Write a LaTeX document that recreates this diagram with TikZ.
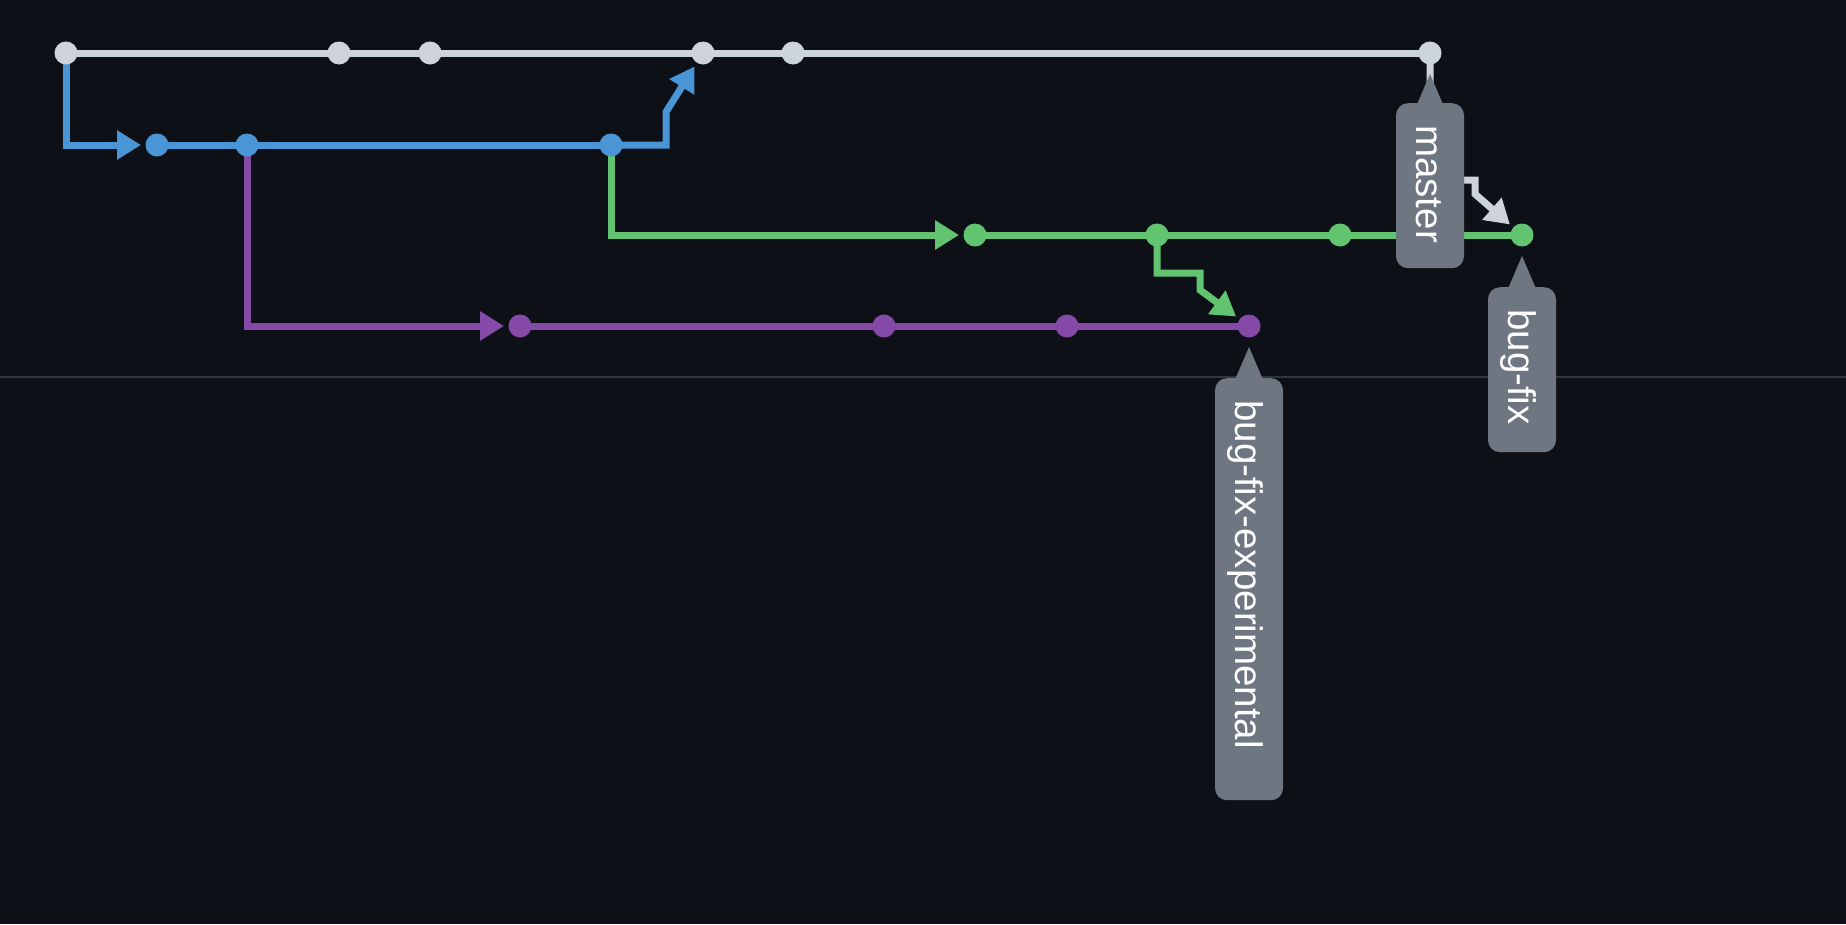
\documentclass[tikz,border=0pt]{standalone}
\usepackage{fontspec}
\setmainfont{Liberation Sans}
\usetikzlibrary{arrows.meta,calc}
\definecolor{bgc}{HTML}{0D1117}
\definecolor{sepc}{HTML}{30363D}
\definecolor{greyc}{HTML}{CDD3DA}
\definecolor{bluec}{HTML}{4A95D6}
\definecolor{greenc}{HTML}{62C370}
\definecolor{purplec}{HTML}{8549A8}
\definecolor{tagc}{HTML}{6E7681}
\definecolor{tagtext}{HTML}{FFFFFF}
\begin{document}
\begin{tikzpicture}[x=1pt,y=-1pt,
  dot/.style={circle,fill=#1,inner sep=0pt,minimum size=22pt,outer sep=5pt},
  branch/.style={draw=#1,line width=7pt},
  arr/.style={-{Triangle[length=24pt,width=28pt]}},
  tagbox/.style={fill=tagc,text=tagtext,rounded corners=12pt,rotate=-90,anchor=west,
    inner xsep=22pt,inner ysep=0pt,minimum height=68pt,align=left,
    text height=27pt,text depth=0pt,font=\fontsize{38.5}{40}\selectfont},
  pointer/.style={fill=tagc}]
\useasboundingbox (0,0) rectangle (1846,924);
\fill[bgc] (0,0) rectangle (1846,924);
\coordinate (sepL) at (0,377);
\coordinate (sepR) at (1846,377);
\draw[sepc,line width=2pt] (sepL) -- (sepR);
% commits
\node[dot=greyc] (m1) at (66,53) {};
\node[dot=greyc] (m2) at (339,53) {};
\node[dot=greyc] (m3) at (430,53) {};
\node[dot=greyc] (m4) at (703,53) {};
\node[dot=greyc] (m5) at (793,53) {};
\node[dot=greyc] (m6) at (1430,53) {};
\node[dot=bluec] (b1) at (157,145) {};
\node[dot=bluec] (b2) at (247,145) {};
\node[dot=bluec] (b3) at (611,145) {};
\node[dot=greenc] (g1) at (975,235) {};
\node[dot=greenc] (g2) at (1157,235) {};
\node[dot=greenc] (g3) at (1340,235) {};
\node[dot=greenc] (g4) at (1522,235) {};
\node[dot=purplec] (p1) at (520,326) {};
\node[dot=purplec] (p2) at (884,326) {};
\node[dot=purplec] (p3) at (1067,326) {};
\node[dot=purplec] (p4) at (1249,326) {};
% branch lines
\draw[branch=greyc] (m1.center) -- (m6.center);
\draw[branch=bluec] (b1.center) -- (b3.center);
\draw[branch=greenc] (g1.center) -- (g4.center);
\draw[branch=purplec] (p1.center) -- (p4.center);
\draw[branch=bluec,arr] (m1.center) |- (b1);
\draw[branch=purplec,arr] (b2.center) |- (p1);
\draw[branch=greenc,arr] (b3.center) |- (g1);
\draw[branch=bluec,arr] (b3.center) -- ++(55,0) -- ++(0,-33) -- (m4);
\draw[branch=greenc,arr] (g2.center) -- ++(0,38) -- ++(43,0) -- ++(0,17) -- (p4);
\draw[branch=greyc,arr] (m6.center) -- ++(0,127) -- ++(45,0) -- ++(0,14) -- (g4);
% redraw dots on top
\foreach \n/\c in {m1/greyc,m2/greyc,m3/greyc,m4/greyc,m5/greyc,m6/greyc,
  b1/bluec,b2/bluec,b3/bluec,g1/greenc,g2/greenc,g3/greenc,g4/greenc,
  p1/purplec,p2/purplec,p3/purplec,p4/purplec}
  \fill[\c] (\n.center) circle[radius=11.5pt];
% labels
\fill[pointer] ($(m6.center)+(0,21)$) -- ($(m6.center)+(-15,56)$) -- ($(m6.center)+(15,56)$) -- cycle;
\node[tagbox,text width=121pt] (lm) at ($(m6.center)+(0,50)$) {master};
\fill[pointer] ($(g4.center)+(0,21)$) -- ($(g4.center)+(-15,56)$) -- ($(g4.center)+(15,56)$) -- cycle;
\node[tagbox,text width=121pt] (lb) at ($(g4.center)+(0,52)$) {bug-fix};
\fill[pointer] ($(p4.center)+(0,21)$) -- ($(p4.center)+(-15,56)$) -- ($(p4.center)+(15,56)$) -- cycle;
\node[tagbox,text width=378pt] (le) at ($(p4.center)+(0,52)$) {bug-fix-experimental};
\end{tikzpicture}
\end{document}
